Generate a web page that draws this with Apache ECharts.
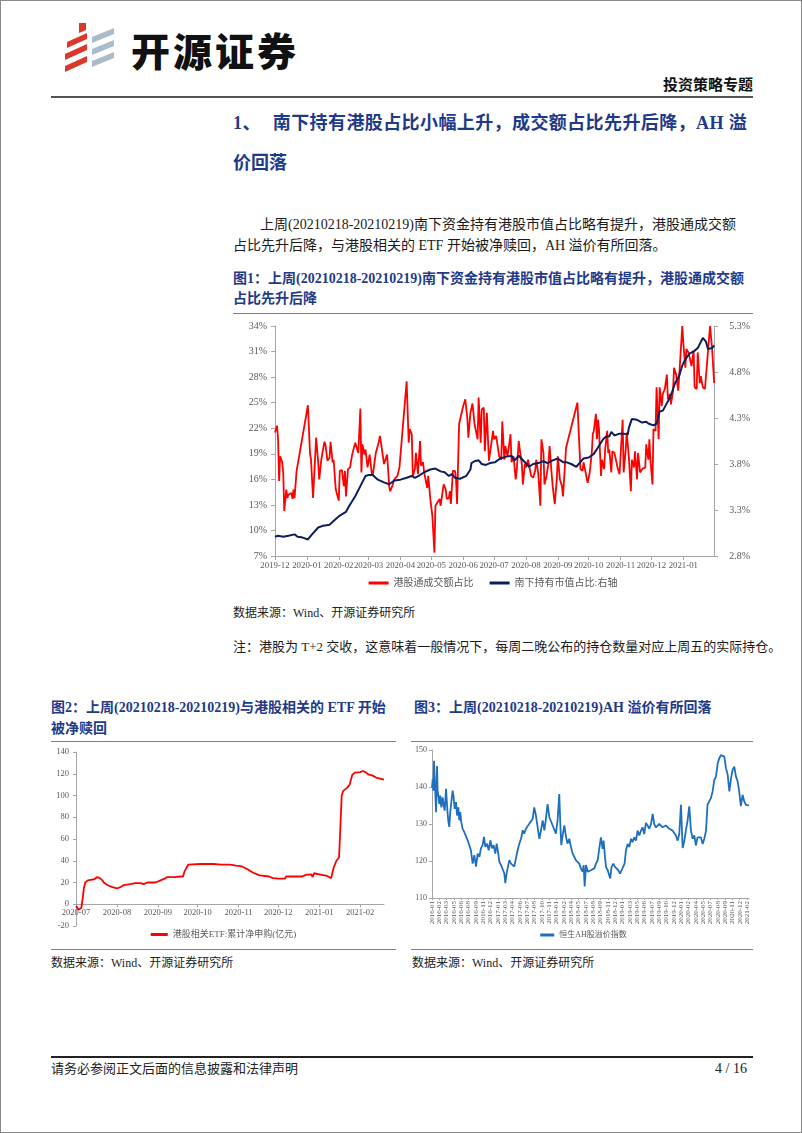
<!DOCTYPE html>
<html><head><meta charset="utf-8">
<script src="https://cdn.jsdelivr.net/npm/echarts@6.0.0/dist/echarts.min.js"></script>
<style>
html,body{margin:0;padding:0;background:#fff;}
#page{position:relative;width:802px;height:1133px;box-sizing:border-box;border:1px solid #8a8a8a;overflow:hidden;font-family:"Liberation Serif","Noto Sans CJK SC",serif;color:#111;}
.abs{position:absolute;white-space:nowrap;}
.h1{font-size:18px;line-height:22px;font-weight:bold;color:#1E3A8A;}
.p{font-size:14px;line-height:18px;color:#1a1a1a;}
.cap{font-size:14px;line-height:18px;font-weight:bold;color:#1E3A8A;}
.src{font-size:12px;line-height:16px;color:#222;}
.rule{position:absolute;background:#7f7f7f;}
.chart{position:absolute;}
</style></head>
<body><div id="page">
<svg class="abs" style="left:58px;top:20px" width="60" height="56" viewBox="58 20 60 56">
  <polygon points="78,22 85,22 85,29 78,32" fill="#D8392B"/>
  <polygon points="66,41 86,32 86,38 66,47" fill="#D8392B"/>
  <polygon points="64,53 86,43 86,49 64,59" fill="#D8392B"/>
  <polygon points="64,65 86,55 86,61 64,71" fill="#D8392B"/>
  <polygon points="91,36 113,27 113,33 91,42" fill="#A9BCCB"/>
  <polygon points="91,48 113,39 113,45 91,54" fill="#A9BCCB"/>
  <polygon points="91,60 113,51 113,57 91,66" fill="#A9BCCB"/>
</svg>
<div class="abs" style="left:130px;top:26px;font-family:'Noto Sans CJK SC';font-size:39px;line-height:44px;font-weight:900;letter-spacing:3px;color:#111;">开源证券</div>
<div class="abs" style="left:662px;top:76px;font-size:15px;line-height:17px;font-weight:bold;">投资策略专题</div>
<div class="rule" style="left:50px;top:95px;width:702px;height:2px;background:#555;"></div>

<div class="abs h1" style="left:232px;top:111px;letter-spacing:0.4px;">1、<span style="margin-left:12px;">南下持有港股占比小幅上升，成交额占比先升后降，AH 溢</span></div>
<div class="abs h1" style="left:232px;top:151px;">价回落</div>

<div class="abs p" style="left:259px;top:215px;">上周(20210218-20210219)南下资金持有港股市值占比略有提升，港股通成交额</div>
<div class="abs p" style="left:232px;top:236px;">占比先升后降，与港股相关的 ETF 开始被净赎回，AH 溢价有所回落。</div>

<div class="abs cap" style="left:232px;top:269px;">图1：上周(20210218-20210219)南下资金持有港股市值占比略有提升，港股通成交额</div>
<div class="abs cap" style="left:232px;top:289px;">占比先升后降</div>
<div class="rule" style="left:232px;top:312px;width:520px;height:1px;"></div>
<div id="c1" class="chart" style="left:232px;top:314px;width:520px;height:284px;"></div>
<div class="abs src" style="left:232px;top:604px;">数据来源：Wind、开源证券研究所</div>
<div class="abs p" style="left:232px;top:637px;font-size:13px;">注：港股为 T+2 交收，这意味着一般情况下，每周二晚公布的持仓数量对应上周五的实际持仓。</div>

<div class="abs cap" style="left:50px;top:698px;">图2：上周(20210218-20210219)与港股相关的 ETF 开始</div>
<div class="abs cap" style="left:50px;top:719px;">被净赎回</div>
<div class="abs cap" style="left:413px;top:698px;">图3：上周(20210218-20210219)AH 溢价有所回落</div>
<div class="rule" style="left:50px;top:740px;width:345px;height:1px;"></div>
<div class="rule" style="left:410px;top:740px;width:342px;height:1px;"></div>
<div id="c2" class="chart" style="left:50px;top:742px;width:345px;height:205px;"></div>
<div id="c3" class="chart" style="left:405px;top:742px;width:355px;height:205px;"></div>
<div class="rule" style="left:50px;top:948px;width:345px;height:1px;"></div>
<div class="rule" style="left:410px;top:948px;width:342px;height:1px;"></div>
<div class="abs src" style="left:50px;top:954px;">数据来源：Wind、开源证券研究所</div>
<div class="abs src" style="left:411px;top:954px;">数据来源：Wind、开源证券研究所</div>

<div class="rule" style="left:50px;top:1055px;width:702px;height:2px;background:#222;"></div>
<div class="abs src" style="left:50px;top:1060px;font-size:13px;">请务必参阅正文后面的信息披露和法律声明</div>
<div class="abs src" style="left:714px;top:1060px;font-size:14px;">4 / 16</div>
</div>
<script>
// ---------- Figure 1 data ----------
const turnoverDates = ['2019-12-20','2019-12-22','2019-12-23','2019-12-24','2019-12-25','2019-12-27','2019-12-28','2019-12-29','2019-12-31','2020-01-01','2020-01-02','2020-01-03','2020-01-05','2020-01-06','2020-01-07','2020-01-08','2020-01-10','2020-01-21','2020-01-23','2020-01-24','2020-01-26','2020-01-29','2020-01-31','2020-02-01','2020-02-03','2020-02-06','2020-02-07','2020-02-09','2020-02-11','2020-02-12','2020-02-14','2020-02-15','2020-02-17','2020-02-18','2020-02-20','2020-02-21','2020-02-23','2020-02-25','2020-02-26','2020-02-27','2020-02-29','2020-03-02','2020-03-04','2020-03-07','2020-03-08','2020-03-10','2020-03-12','2020-03-13','2020-03-14','2020-03-16','2020-03-17','2020-03-19','2020-03-21','2020-03-23','2020-03-24','2020-03-27','2020-03-30','2020-03-31','2020-04-02','2020-04-04','2020-04-05','2020-04-07','2020-04-09','2020-04-10','2020-04-12','2020-04-14','2020-04-15','2020-04-17','2020-04-19','2020-04-26','2020-04-28','2020-04-29','2020-05-01','2020-05-02','2020-05-04','2020-05-05','2020-05-07','2020-05-09','2020-05-10','2020-05-12','2020-05-13','2020-05-16','2020-05-17','2020-05-19','2020-05-21','2020-05-23','2020-05-24','2020-05-26','2020-05-28','2020-05-29','2020-06-01','2020-06-03','2020-06-04','2020-06-06','2020-06-07','2020-06-08','2020-06-10','2020-06-12','2020-06-13','2020-06-14','2020-06-16','2020-06-20','2020-06-22','2020-06-24','2020-06-25','2020-06-27','2020-06-29','2020-07-01','2020-07-02','2020-07-04','2020-07-05','2020-07-07','2020-07-08','2020-07-10','2020-07-11','2020-07-13','2020-07-15','2020-07-17','2020-07-19','2020-07-20','2020-07-22','2020-07-23','2020-07-25','2020-07-27','2020-07-28','2020-07-30','2020-07-31','2020-08-02','2020-08-03','2020-08-05','2020-08-06','2020-08-08','2020-08-10','2020-08-11','2020-08-13','2020-08-14','2020-08-16','2020-08-17','2020-08-19','2020-08-20','2020-08-22','2020-08-23','2020-08-25','2020-08-27','2020-08-29','2020-08-30','2020-09-01','2020-09-03','2020-09-04','2020-09-06','2020-09-07','2020-09-09','2020-09-11','2020-09-12','2020-09-14','2020-09-15','2020-09-17','2020-09-19','2020-09-20','2020-09-22','2020-09-24','2020-09-25','2020-09-28','2020-10-09','2020-10-12','2020-10-14','2020-10-15','2020-10-17','2020-10-19','2020-10-21','2020-10-23','2020-10-24','2020-10-25','2020-10-27','2020-10-28','2020-10-29','2020-10-30','2020-11-01','2020-11-02','2020-11-04','2020-11-05','2020-11-07','2020-11-08','2020-11-09','2020-11-11','2020-11-12','2020-11-14','2020-11-16','2020-11-17','2020-11-19','2020-11-20','2020-11-22','2020-11-23','2020-11-25','2020-11-26','2020-11-28','2020-11-30','2020-12-01','2020-12-03','2020-12-04','2020-12-06','2020-12-07','2020-12-09','2020-12-11','2020-12-12','2020-12-14','2020-12-15','2020-12-17','2020-12-18','2020-12-19','2020-12-21','2020-12-22','2020-12-24','2020-12-25','2020-12-27','2020-12-28','2020-12-30','2020-12-31','2021-01-02','2021-01-04','2021-01-05','2021-01-07','2021-01-08','2021-01-10','2021-01-11','2021-01-13','2021-01-15','2021-01-16','2021-01-19','2021-01-20','2021-01-22','2021-01-23','2021-01-25','2021-01-26','2021-01-28','2021-01-30','2021-01-31','2021-02-02','2021-02-03','2021-02-05','2021-02-06','2021-02-08','2021-02-10','2021-02-15','2021-02-17','2021-02-19'];
const turnoverShare = [21.5,22.3,20.7,15.8,18.7,18.0,16.8,12.3,14.8,13.8,14.2,14.0,14.4,13.7,14.8,13.8,17.0,24.7,19.1,18.3,13.8,20.9,18.0,16.0,18.3,20.4,20.1,18.2,18.5,20.4,18.0,18.3,14.9,14.4,13.5,17.0,17.1,15.2,17.0,14.0,17.2,17.4,18.9,20.3,20.3,19.1,24.3,16.8,20.1,18.9,19.5,17.4,18.9,16.8,16.4,19.1,20.4,21.1,19.5,17.8,18.0,18.9,15.2,14.6,15.2,16.0,15.8,16.4,17.4,27.5,20.3,21.9,21.3,16.4,17.2,19.1,16.6,20.5,17.6,18.0,16.8,15.0,16.4,13.7,11.7,7.4,12.9,13.3,13.7,12.9,15.4,14.8,13.7,13.8,14.6,13.1,17.0,17.0,16.0,13.1,22.5,24.6,25.4,23.2,20.9,23.8,24.9,22.5,22.3,20.7,25.6,20.3,24.2,24.4,19.3,23.8,18.2,19.9,21.7,20.7,21.1,20.9,18.7,18.3,22.8,18.3,19.9,18.7,19.5,21.3,18.0,18.7,16.0,17.0,20.5,19.5,17.8,15.4,17.8,17.4,18.3,18.5,16.4,16.2,17.0,18.3,16.6,12.9,20.7,19.1,15.4,16.4,18.0,19.9,16.6,15.2,13.1,16.0,18.7,16.0,15.2,14.0,19.7,25.0,17.2,17.0,18.0,16.8,15.6,16.8,19.1,21.3,21.7,23.7,20.7,23.0,21.9,16.4,18.3,17.2,19.5,21.7,19.1,19.5,16.8,19.3,19.1,18.0,17.4,16.6,16.6,23.0,16.8,19.5,21.5,18.7,14.6,18.3,17.4,19.3,16.0,19.1,16.8,17.2,17.2,17.4,20.1,18.3,20.7,18.3,15.4,21.9,21.7,26.8,20.7,26.8,24.6,26.0,26.6,28.3,25.4,26.0,24.8,26.4,29.1,28.3,26.4,28.1,34.0,32.0,29.1,31.3,30.9,31.1,29.3,31.1,26.8,26.6,30.9,27.3,28.1,26.8,26.6,34.0,31.3,27.3];
const holdingDates = ['2019-12-20','2019-12-23','2019-12-28','2020-01-02','2020-01-08','2020-01-11','2020-01-16','2020-01-21','2020-01-25','2020-01-31','2020-02-05','2020-02-11','2020-02-16','2020-02-21','2020-02-27','2020-03-02','2020-03-07','2020-03-12','2020-03-17','2020-03-20','2020-03-24','2020-03-29','2020-04-04','2020-04-09','2020-04-14','2020-04-20','2020-04-26','2020-05-01','2020-05-04','2020-05-09','2020-05-13','2020-05-19','2020-05-24','2020-05-29','2020-06-02','2020-06-06','2020-06-09','2020-06-12','2020-06-17','2020-06-23','2020-06-27','2020-06-28','2020-07-01','2020-07-02','2020-07-05','2020-07-08','2020-07-12','2020-07-16','2020-07-21','2020-07-26','2020-08-01','2020-08-06','2020-08-09','2020-08-13','2020-08-18','2020-08-23','2020-08-27','2020-09-01','2020-09-06','2020-09-10','2020-09-15','2020-09-20','2020-09-25','2020-09-28','2020-10-03','2020-10-08','2020-10-11','2020-10-15','2020-10-20','2020-10-25','2020-10-29','2020-11-03','2020-11-06','2020-11-09','2020-11-11','2020-11-14','2020-11-19','2020-11-23','2020-11-27','2020-11-28','2020-12-01','2020-12-06','2020-12-11','2020-12-15','2020-12-17','2020-12-22','2020-12-25','2020-12-28','2020-12-31','2021-01-03','2021-01-06','2021-01-09','2021-01-12','2021-01-16','2021-01-19','2021-01-22','2021-01-26','2021-01-31','2021-02-03','2021-02-08','2021-02-11','2021-02-13','2021-02-17','2021-02-19'];
const holdingShare = [3.01,3.02,3.01,3.02,3.035,3.01,3.00,2.98,3.035,3.11,3.13,3.14,3.19,3.24,3.28,3.36,3.45,3.56,3.67,3.68,3.68,3.63,3.60,3.58,3.62,3.63,3.65,3.67,3.65,3.68,3.71,3.74,3.75,3.72,3.71,3.67,3.69,3.65,3.64,3.67,3.74,3.81,3.83,3.81,3.84,3.80,3.79,3.81,3.82,3.86,3.88,3.89,3.84,3.89,3.83,3.77,3.80,3.81,3.83,3.81,3.84,3.86,3.82,3.82,3.80,3.77,3.81,3.86,3.87,3.91,3.98,4.07,4.10,4.10,4.15,4.11,4.13,4.13,4.12,4.19,4.29,4.28,4.25,4.26,4.24,4.22,4.24,4.37,4.38,4.44,4.50,4.58,4.68,4.76,4.87,4.94,5.00,5.03,5.06,5.17,5.13,5.05,5.06,5.09];
const fig1MonthLabels = ['2019-12','2020-01','2020-02','2020-03','2020-04','2020-05','2020-06','2020-07','2020-08','2020-09','2020-10','2020-11','2020-12','2021-01'];

// ---------- Figure 2 data ----------
const etfDates = ['2020-07-01','2020-07-03','2020-07-04','2020-07-05','2020-07-06','2020-07-07','2020-07-08','2020-07-10','2020-07-12','2020-07-15','2020-07-16','2020-07-17','2020-07-19','2020-07-21','2020-07-22','2020-07-25','2020-07-28','2020-08-01','2020-08-04','2020-08-06','2020-08-11','2020-08-15','2020-08-19','2020-08-21','2020-08-24','2020-08-30','2020-08-31','2020-09-03','2020-09-06','2020-09-08','2020-09-13','2020-09-18','2020-09-20','2020-09-21','2020-09-24','2020-10-03','2020-10-13','2020-10-19','2020-10-25','2020-10-28','2020-10-30','2020-11-02','2020-11-04','2020-11-08','2020-11-12','2020-11-17','2020-11-24','2020-11-27','2020-12-01','2020-12-06','2020-12-07','2020-12-12','2020-12-19','2020-12-22','2020-12-26','2020-12-27','2020-12-28','2020-12-29','2021-01-03','2021-01-07','2021-01-10','2021-01-11','2021-01-12','2021-01-14','2021-01-16','2021-01-17','2021-01-18','2021-01-19','2021-01-22','2021-01-24','2021-01-26','2021-01-28','2021-02-01','2021-02-03','2021-02-05','2021-02-07','2021-02-10','2021-02-13','2021-02-19'];
const etfNetSubscription = [-1.5,-5.0,-5.5,-3.5,5,15,20,22,22.5,23,24.5,25,24,22,20,17.5,16,14.5,16,17.5,18.5,19.5,19.5,18.5,20,20,20.5,22,23.5,25,25,25.5,25.5,30,36.5,37,37,36.5,36.5,36,35.5,35,34.5,32,29,26.5,25.5,24,23.5,23.5,25.5,25.5,25.5,27,27.5,25,28.5,27.5,27,26,24,25.5,34,40,43,44,100,104,107,110,119,121,121.5,122.5,121.5,119.5,118.5,116.5,114.5];
const fig2MonthLabels = ['2020-07','2020-08','2020-09','2020-10','2020-11','2020-12','2021-01','2021-02'];

// ---------- Figure 3 data ----------
const ahDates = ['2016-01-04','2016-01-08','2016-01-12','2016-01-16','2016-01-20','2016-01-24','2016-01-28','2016-02-03','2016-02-06','2016-02-12','2016-02-16','2016-02-22','2016-02-28','2016-03-07','2016-03-13','2016-03-19','2016-03-27','2016-04-04','2016-04-09','2016-04-15','2016-04-21','2016-04-29','2016-05-05','2016-05-11','2016-05-17','2016-05-25','2016-05-31','2016-06-08','2016-06-13','2016-06-19','2016-06-25','2016-07-03','2016-07-13','2016-07-23','2016-08-02','2016-08-12','2016-08-21','2016-08-31','2016-09-10','2016-09-20','2016-09-30','2016-10-10','2016-10-19','2016-10-29','2016-11-06','2016-11-14','2016-11-24','2016-12-04','2016-12-14','2016-12-23','2017-01-02','2017-01-12','2017-01-20','2017-01-28','2017-02-05','2017-02-15','2017-02-24','2017-03-06','2017-03-12','2017-03-20','2017-03-28','2017-04-05','2017-04-15','2017-04-24','2017-05-04','2017-05-14','2017-05-24','2017-06-03','2017-06-13','2017-06-23','2017-07-02','2017-07-12','2017-07-22','2017-08-01','2017-08-11','2017-08-21','2017-08-30','2017-09-09','2017-09-19','2017-09-29','2017-10-09','2017-10-19','2017-10-29','2017-11-07','2017-11-17','2017-11-27','2017-12-07','2017-12-17','2017-12-27','2018-01-05','2018-01-15','2018-01-25','2018-01-31','2018-02-06','2018-02-14','2018-02-24','2018-03-06','2018-03-15','2018-03-25','2018-04-04','2018-04-14','2018-04-24','2018-05-04','2018-05-13','2018-05-23','2018-06-02','2018-06-12','2018-06-18','2018-06-24','2018-07-02','2018-07-12','2018-07-21','2018-07-31','2018-08-10','2018-08-20','2018-08-30','2018-09-09','2018-09-18','2018-09-28','2018-10-08','2018-10-14','2018-10-22','2018-10-28','2018-11-07','2018-11-17','2018-11-22','2018-11-30','2018-12-10','2018-12-20','2018-12-30','2019-01-09','2019-01-19','2019-01-28','2019-02-07','2019-02-15','2019-02-23','2019-03-05','2019-03-15','2019-03-25','2019-04-03','2019-04-13','2019-04-23','2019-05-03','2019-05-13','2019-05-23','2019-06-01','2019-06-11','2019-06-21','2019-07-01','2019-07-11','2019-07-21','2019-07-31','2019-08-09','2019-08-19','2019-09-08','2019-09-28','2019-10-17','2019-11-06','2019-11-26','2019-12-15','2019-12-25','2020-01-04','2020-01-14','2020-01-24','2020-02-03','2020-02-12','2020-02-22','2020-03-03','2020-03-13','2020-03-23','2020-04-02','2020-04-11','2020-04-21','2020-05-01','2020-05-11','2020-05-21','2020-05-31','2020-06-10','2020-06-19','2020-06-29','2020-07-09','2020-07-19','2020-07-29','2020-08-08','2020-08-18','2020-08-27','2020-09-06','2020-09-16','2020-09-26','2020-10-06','2020-10-16','2020-10-26','2020-11-05','2020-11-14','2020-11-24','2020-12-04','2020-12-14','2020-12-23','2021-01-02','2021-01-12','2021-01-22','2021-02-01','2021-02-19'];
const ahPremium = [139.9,142.1,139,147.1,142.6,138.1,133.2,145.7,139,137.2,135.4,137.7,134.5,137.2,135,133.6,139.5,133.6,131,129.2,133.2,136.8,139,137.2,134.1,135.9,132.3,134.5,131,133.2,130.5,128.7,127.8,127.4,125.6,125.2,122.9,119.3,121.6,118.5,122,121.1,123.4,124.3,126.5,123.8,124.7,122.9,125.6,123.4,124.3,122,124.7,122.5,119.8,118.9,118.5,116.7,114,116.7,118.5,120.2,119.3,119.8,118.5,120.7,122.9,124.7,126,128.3,127.4,128.7,128.3,130.1,130.5,131.4,134.5,132.3,129.2,126,128.3,131,128.3,131.4,135.4,131.9,132.3,129.6,130.1,127.4,131,138.1,130.1,124.3,126.9,129.6,126.5,124.7,126,123.8,122,121.6,120.2,120.7,119.3,118,117.1,118.9,113.1,118.9,117.1,116.6,117.5,117.1,118,119.3,120.2,123.3,126.4,123.3,125.5,121.1,118.4,117.5,117.1,115.3,118.4,119.3,118.4,118,117.5,116.6,117.5,117.1,119.3,122.9,124.6,123.8,126,125.1,126.4,125.5,128.2,126.9,128.2,129.1,127.3,130.3,129.6,128.7,130,132.7,130,129.1,130,129.1,129.6,128.7,128.2,126.9,125.5,127.3,135.2,123.5,125.5,128.2,130.9,134.8,128.2,126,126.9,124.2,126.4,126,126.4,124.6,126,128.2,135.2,136.1,137,138.8,141.9,142.8,146.4,147.7,148.6,149.1,148.2,145.1,143.3,138.8,142.4,144.6,145.5,142.8,141.5,138.8,134.8,137.9,136.1,135.2,135.0];
const fig3TickDates = ['2016-01-04','2016-02-16','2016-03-30','2016-05-13','2016-06-25','2016-08-07','2016-09-20','2016-11-02','2016-12-15','2017-01-28','2017-03-12','2017-04-24','2017-06-07','2017-07-20','2017-08-31','2017-10-14','2017-11-27','2018-01-09','2018-02-21','2018-04-06','2018-05-19','2018-07-01','2018-08-14','2018-09-26','2018-11-08','2018-12-21','2019-01-30','2019-03-18','2019-05-01','2019-06-13','2019-07-26','2019-09-07','2019-10-21','2019-12-03','2020-01-15','2020-02-27','2020-04-11','2020-05-24','2020-07-06','2020-08-18','2020-09-30','2020-11-13','2020-12-26','2021-02-08'];

// ---------- helpers ----------
const SERIF = '"Liberation Serif","Noto Sans CJK SC",serif';
const AXIS_GREY = '#A6A6A6';
const LABEL_GREY = '#595959';
const ts = s => echarts.number.parseDate(s).getTime();
const pairs = (xs, ys) => xs.map((x, i) => [ts(x), ys[i]]);
const ym = v => { const d = new Date(v); return d.getFullYear() + '-' + String(d.getMonth() + 1).padStart(2, '0'); };

// ---------- Figure 1 ----------
const fig1Ticks = fig1MonthLabels.map(m => ts(m + '-20'));
const c1 = echarts.init(document.getElementById('c1'));
c1.setOption({
  animation: false,
  textStyle: {fontFamily: SERIF},
  grid: {left: 42, right: 34, top: 11, bottom: 43},
  legend: {
    bottom: 6, left: 'center', itemWidth: 20, itemHeight: 3, itemGap: 16, icon: 'rect',
    textStyle: {fontSize: 10, color: LABEL_GREY, fontFamily: SERIF},
    data: ['港股通成交额占比', '南下持有市值占比:右轴']
  },
  xAxis: {
    type: 'value', min: ts(turnoverDates[0]), max: ts('2021-02-19'), scale: true,
    axisLine: {onZero: false, lineStyle: {color: AXIS_GREY}},
    axisTick: {customValues: fig1Ticks, length: 4, lineStyle: {color: AXIS_GREY}},
    axisLabel: {customValues: fig1Ticks, formatter: ym, fontSize: 8.8, color: LABEL_GREY, margin: 5,
      fontFamily: SERIF, hideOverlap: false, showMinLabel: true, showMaxLabel: true},
    splitLine: {show: false}
  },
  yAxis: [
    {type: 'value', min: 7, max: 34, interval: 3,
      axisLine: {show: true, lineStyle: {color: AXIS_GREY}}, axisTick: {show: true, length: 4, lineStyle: {color: AXIS_GREY}},
      axisLabel: {formatter: v => Math.round(v) + '%', fontSize: 10, color: LABEL_GREY, margin: 8, fontFamily: SERIF},
      splitLine: {show: false}},
    {type: 'value', min: 2.8, max: 5.3, interval: 0.5, position: 'right',
      axisLine: {show: true, lineStyle: {color: AXIS_GREY}}, axisTick: {show: true, length: 4, lineStyle: {color: AXIS_GREY}},
      axisLabel: {formatter: v => v.toFixed(1) + '%', fontSize: 10, color: LABEL_GREY, margin: 15, fontFamily: SERIF},
      splitLine: {show: false}}
  ],
  series: [
    {name: '港股通成交额占比', type: 'line', yAxisIndex: 0, symbol: 'none', data: pairs(turnoverDates, turnoverShare),
      lineStyle: {color: '#FF0000', width: 1.8}, itemStyle: {color: '#FF0000'}},
    {name: '南下持有市值占比:右轴', type: 'line', yAxisIndex: 1, symbol: 'none', data: pairs(holdingDates, holdingShare),
      lineStyle: {color: '#0C1F5C', width: 2}, itemStyle: {color: '#0C1F5C'}}
  ]
});

// ---------- Figure 2 ----------
const fig2Ticks = fig2MonthLabels.map(m => ts(m + '-01'));
const fig2Grid = {left: 25, right: 12, top: 9, bottom: 22};
const fig2YMin = -20, fig2YMax = 140;
const fig2PlotH = 205 - fig2Grid.top - fig2Grid.bottom;
const c2 = echarts.init(document.getElementById('c2'));
c2.setOption({
  animation: false,
  textStyle: {fontFamily: SERIF},
  grid: fig2Grid,
  legend: {
    bottom: 4, left: 'center', itemWidth: 17, itemHeight: 3, icon: 'rect',
    textStyle: {fontSize: 9, color: LABEL_GREY, fontFamily: SERIF},
    data: ['港股相关ETF:累计净申购(亿元)']
  },
  xAxis: {
    type: 'value', min: ts('2020-07-01'), max: ts('2021-02-19'), scale: true,
    // axis sits on the zero line, like the source chart
    offset: -fig2PlotH * (0 - fig2YMin) / (fig2YMax - fig2YMin),
    axisLine: {onZero: false, lineStyle: {color: AXIS_GREY}},
    axisTick: {customValues: fig2Ticks, length: 3, lineStyle: {color: AXIS_GREY}},
    axisLabel: {customValues: fig2Ticks, formatter: ym, fontSize: 8.5, color: LABEL_GREY, margin: 4,
      fontFamily: SERIF, hideOverlap: false, showMinLabel: true, showMaxLabel: true},
    splitLine: {show: false}
  },
  yAxis: {type: 'value', min: fig2YMin, max: fig2YMax, interval: 20,
    axisLine: {show: true, lineStyle: {color: AXIS_GREY}}, axisTick: {show: true, length: 3, lineStyle: {color: AXIS_GREY}},
    axisLabel: {fontSize: 8.5, color: LABEL_GREY, margin: 7, fontFamily: SERIF}, splitLine: {show: false}},
  series: [{name: '港股相关ETF:累计净申购(亿元)', type: 'line', symbol: 'none', data: pairs(etfDates, etfNetSubscription),
    lineStyle: {color: '#FF0000', width: 1.8}, itemStyle: {color: '#FF0000'}}]
});

// ---------- Figure 3 ----------
const fig3Ticks = fig3TickDates.map(ts);
const c3 = echarts.init(document.getElementById('c3'));
c3.setOption({
  animation: false,
  textStyle: {fontFamily: SERIF},
  grid: {left: 26, right: 12, top: 7, bottom: 50},
  legend: {
    bottom: 4, left: 'center', itemWidth: 14, itemHeight: 3, icon: 'rect',
    textStyle: {fontSize: 8, color: LABEL_GREY, fontFamily: SERIF},
    data: ['恒生AH股溢价指数']
  },
  xAxis: {
    type: 'value', min: ts('2016-01-04'), max: ts('2021-02-19'), scale: true,
    axisLine: {onZero: false, lineStyle: {color: AXIS_GREY}},
    axisTick: {customValues: fig3Ticks, length: 2, lineStyle: {color: AXIS_GREY}},
    axisLabel: {customValues: fig3Ticks, formatter: ym, rotate: 90, fontSize: 7, color: LABEL_GREY, margin: 3,
      fontFamily: SERIF, hideOverlap: false},
    splitLine: {show: false}
  },
  yAxis: {type: 'value', min: 110, max: 150, interval: 10,
    axisLine: {show: true, lineStyle: {color: AXIS_GREY}}, axisTick: {show: true, length: 3, lineStyle: {color: AXIS_GREY}},
    axisLabel: {fontSize: 8, color: LABEL_GREY, margin: 5, fontFamily: SERIF}, splitLine: {show: false}},
  series: [{name: '恒生AH股溢价指数', type: 'line', symbol: 'none', data: pairs(ahDates, ahPremium),
    lineStyle: {color: '#1F6FBF', width: 1.8}, itemStyle: {color: '#1F6FBF'}}]
});
</script>
</body></html>
